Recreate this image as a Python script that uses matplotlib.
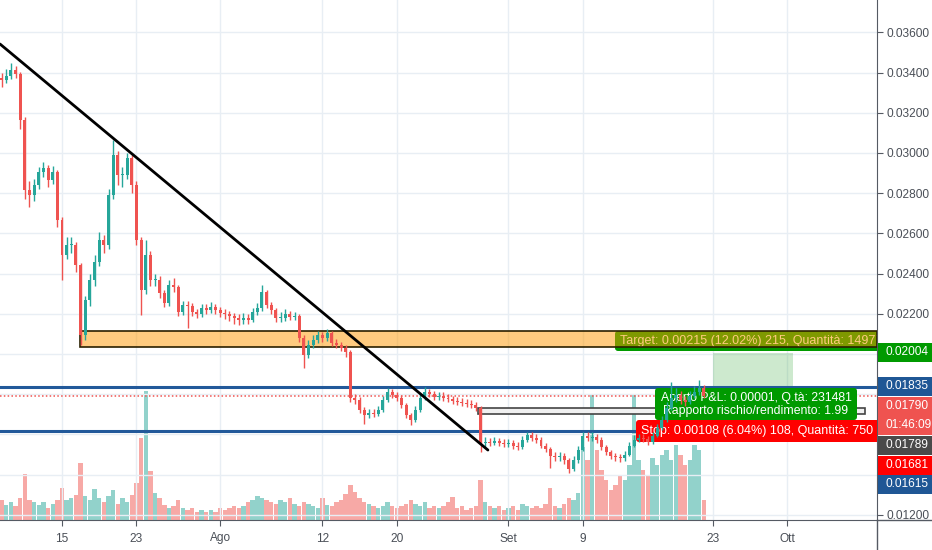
import numpy as np
import pandas as pd
import matplotlib
matplotlib.use("Agg")
import matplotlib.pyplot as plt
import matplotlib.dates as mdates
from matplotlib.patches import Rectangle, FancyBboxPatch
from matplotlib.transforms import Affine2D

plt.rcParams['font.family'] = ['Liberation Sans', 'DejaVu Sans']

# 12h candles, 2019-07-08 12:00 onwards
first_open = 0.03373
close = [0.03363, 0.03383, 0.03413, 0.03393, 0.03164, 0.02816, 0.02791, 0.02841, 0.02905, 0.02925,
         0.02866, 0.02905, 0.02667, 0.02492, 0.02542, 0.02542, 0.02443, 0.02094, 0.02268, 0.02368,
         0.02458, 0.02567, 0.02542, 0.02791, 0.02990, 0.02890, 0.02890, 0.02975, 0.02841, 0.02567,
         0.02318, 0.02492, 0.02368, 0.02368, 0.02303, 0.02254, 0.02343, 0.02333, 0.02209, 0.02244,
         0.02239, 0.02209, 0.02199, 0.02229, 0.02219, 0.02234, 0.02219, 0.02204, 0.02199, 0.02189,
         0.02179, 0.02169, 0.02179, 0.02169, 0.02209, 0.02229, 0.02308, 0.02244, 0.02219, 0.02179,
         0.02179, 0.02199, 0.02184, 0.02189, 0.02079, 0.01995, 0.02045, 0.02070, 0.02094, 0.02079,
         0.02104, 0.02055, 0.02045, 0.02030, 0.02010, 0.01781, 0.01771, 0.01721, 0.01696, 0.01706,
         0.01701, 0.01721, 0.01771, 0.01811, 0.01796, 0.01781, 0.01746, 0.01696, 0.01671, 0.01721,
         0.01781, 0.01811, 0.01801, 0.01786, 0.01791, 0.01781, 0.01776, 0.01766, 0.01761, 0.01756,
         0.01751, 0.01746, 0.01731, 0.01557, 0.01562, 0.01557, 0.01567, 0.01557, 0.01552, 0.01557,
         0.01542, 0.01537, 0.01572, 0.01597, 0.01582, 0.01572, 0.01542, 0.01527, 0.01492, 0.01487,
         0.01492, 0.01472, 0.01428, 0.01472, 0.01522, 0.01592, 0.01582, 0.01587, 0.01572, 0.01537,
         0.01512, 0.01492, 0.01487, 0.01482, 0.01497, 0.01542, 0.01572, 0.01582, 0.01577, 0.01562,
         0.01592, 0.01632, 0.01671, 0.01731, 0.01781, 0.01796, 0.01771, 0.01761, 0.01791, 0.01811,
         0.01831, 0.01791]
high = [0.03400, 0.03420, 0.03448, 0.03435, 0.03405, 0.03180, 0.02860, 0.02870, 0.02930, 0.02955,
        0.02940, 0.02935, 0.02915, 0.02680, 0.02580, 0.02580, 0.02555, 0.02455, 0.02290, 0.02400,
        0.02490, 0.02607, 0.02590, 0.02820, 0.03065, 0.03010, 0.02930, 0.03000, 0.02990, 0.02860,
        0.02580, 0.02567, 0.02510, 0.02400, 0.02390, 0.02320, 0.02370, 0.02380, 0.02345, 0.02265,
        0.02265, 0.02255, 0.02225, 0.02250, 0.02250, 0.02260, 0.02250, 0.02235, 0.02225, 0.02215,
        0.02205, 0.02200, 0.02205, 0.02200, 0.02230, 0.02255, 0.02343, 0.02320, 0.02260, 0.02230,
        0.02210, 0.02225, 0.02215, 0.02210, 0.02200, 0.02095, 0.02070, 0.02095, 0.02114, 0.02110,
        0.02124, 0.02115, 0.02075, 0.02060, 0.02045, 0.02020, 0.01800, 0.01785, 0.01735, 0.01725,
        0.01725, 0.01740, 0.01790, 0.01831, 0.01825, 0.01810, 0.01795, 0.01755, 0.01705, 0.01740,
        0.01800, 0.01836, 0.01825, 0.01815, 0.01810, 0.01810, 0.01800, 0.01790, 0.01785, 0.01780,
        0.01775, 0.01770, 0.01760, 0.01740, 0.01585, 0.01580, 0.01585, 0.01580, 0.01575, 0.01575,
        0.01570, 0.01560, 0.01590, 0.01612, 0.01610, 0.01600, 0.01585, 0.01555, 0.01535, 0.01510,
        0.01510, 0.01505, 0.01480, 0.01490, 0.01540, 0.01612, 0.01610, 0.01610, 0.01600, 0.01585,
        0.01545, 0.01520, 0.01505, 0.01500, 0.01515, 0.01560, 0.01595, 0.01600, 0.01600, 0.01590,
        0.01610, 0.01650, 0.01690, 0.01760, 0.01861, 0.01830, 0.01815, 0.01790, 0.01815, 0.01840,
        0.01871, 0.01845]
low = [0.03330, 0.03350, 0.03370, 0.03375, 0.03120, 0.02770, 0.02731, 0.02760, 0.02820, 0.02880,
       0.02830, 0.02845, 0.02630, 0.02368, 0.02470, 0.02500, 0.02410, 0.02045, 0.02070, 0.02240,
       0.02340, 0.02440, 0.02500, 0.02520, 0.02770, 0.02840, 0.02830, 0.02870, 0.02800, 0.02540,
       0.02194, 0.02300, 0.02340, 0.02340, 0.02280, 0.02234, 0.02240, 0.02310, 0.02190, 0.02195,
       0.02130, 0.02190, 0.02180, 0.02185, 0.02200, 0.02205, 0.02200, 0.02185, 0.02175, 0.02165,
       0.02150, 0.02145, 0.02150, 0.02150, 0.02160, 0.02195, 0.02215, 0.02230, 0.02200, 0.02160,
       0.02160, 0.02165, 0.02170, 0.02170, 0.02060, 0.01930, 0.01980, 0.02030, 0.02055, 0.02060,
       0.02065, 0.02040, 0.02030, 0.02015, 0.01985, 0.01760, 0.01750, 0.01705, 0.01651, 0.01680,
       0.01685, 0.01690, 0.01710, 0.01760, 0.01780, 0.01765, 0.01730, 0.01680, 0.01646, 0.01660,
       0.01710, 0.01770, 0.01785, 0.01770, 0.01770, 0.01765, 0.01760, 0.01750, 0.01745, 0.01740,
       0.01735, 0.01730, 0.01715, 0.01512, 0.01535, 0.01540, 0.01545, 0.01540, 0.01535, 0.01535,
       0.01525, 0.01520, 0.01525, 0.01560, 0.01565, 0.01555, 0.01530, 0.01510, 0.01433, 0.01470,
       0.01470, 0.01455, 0.01408, 0.01420, 0.01460, 0.01515, 0.01565, 0.01565, 0.01555, 0.01520,
       0.01495, 0.01475, 0.01470, 0.01465, 0.01470, 0.01490, 0.01535, 0.01560, 0.01560, 0.01545,
       0.01550, 0.01585, 0.01620, 0.01660, 0.01720, 0.01760, 0.01750, 0.01740, 0.01750, 0.01780,
       0.01795, 0.01780]
volume = [200, 150, 180, 140, 220, 460, 200, 180, 150, 180,
          120, 160, 200, 320, 200, 220, 250, 570, 240, 200,
          310, 220, 180, 240, 300, 160, 220, 180, 250, 370,
          820, 1290, 490, 270, 220, 150, 120, 140, 200, 120,
          100, 120, 80, 100, 80, 100, 80, 120, 100, 120,
          140, 120, 140, 180, 200, 240, 220, 200, 180, 160,
          200, 180, 220, 160, 140, 180, 160, 140, 120, 220,
          150, 140, 180, 200, 260, 350, 280, 220, 180, 160,
          140, 120, 140, 180, 140, 120, 140, 160, 200, 160,
          140, 180, 120, 140, 120, 140, 180, 230, 120, 140,
          100, 120, 140, 400, 180, 140, 120, 140, 100, 120,
          140, 100, 160, 140, 120, 140, 120, 160, 320, 140,
          120, 160, 220, 200, 270, 730, 600, 1250, 700, 500,
          400, 300, 350, 450, 400, 550, 1250, 600, 500, 450,
          620, 550, 650, 700, 600, 750, 650, 550, 600, 750,
          700, 200]

dates = pd.date_range('2019-07-08 12:00', periods=len(close), freq='12h')
xd = mdates.date2num(dates)
opens = [first_open] + close[:-1]

up_col = '#26a69a'
dn_col = '#ef5350'
is_up = [c >= o for o, c in zip(opens, close)]
cols = [up_col if u else dn_col for u in is_up]

tick_dates = ['2019-07-15', '2019-07-23', '2019-08-01', '2019-08-12', '2019-08-20',
              '2019-09-01', '2019-09-09', '2019-09-23', '2019-10-01']
tick_labels = ['15', '23', 'Ago', '12', '20', 'Set', '9', '23', 'Ott']

support_lines = [0.01835, 0.01615]
last_price = 0.01790
zone_top, zone_bottom = 0.02114, 0.02035
entry, target, stop = 0.01789, 0.02004, 0.01681

W, H = 932, 550
fig = plt.figure(figsize=(W / 100, H / 100), dpi=100)
rect = [0, 30 / H, 877 / W, 520 / H]
# pixel coordinates, origin top-left
px = Affine2D().scale(1 / 100, -1 / 100).translate(0, H / 100) + fig.dpi_scale_trans

ax_vol = fig.add_axes(rect)
ax = fig.add_axes(rect, sharex=ax_vol)
ax.patch.set_alpha(0)

x_left = mdates.date2num(pd.Timestamp('2019-07-08 08:00'))
x_right = mdates.date2num(pd.Timestamp('2019-10-10 15:00'))
ax.set_xlim(x_left, x_right)
ax.set_ylim(0.01174, 0.03761)

# volume
vol_cols = [(0.15, 0.65, 0.60, 0.5) if u else (0.94, 0.33, 0.31, 0.5) for u in is_up]
ax_vol.bar(xd, volume, width=0.47, color=vol_cols, linewidth=0)
ax_vol.set_ylim(0, 5200)
ax_vol.axis('off')

# grid
grid_c = '#e8eef4'
for td in tick_dates:
    ax.axvline(mdates.date2num(pd.Timestamp(td)), color=grid_c, lw=1, zorder=0)
for p in np.arange(0.012, 0.0361, 0.002):
    ax.axhline(p, color=grid_c, lw=1, zorder=0)

# candles
body_bottom = [min(o, c) for o, c in zip(opens, close)]
body_h = [max(abs(c - o), 0.00003) for o, c in zip(opens, close)]
ax.vlines(xd, low, high, colors=cols, lw=1, zorder=6)
ax.bar(xd, body_h, bottom=body_bottom, width=0.32, color=cols, linewidth=0, zorder=6)

# horizontal levels
for lvl in support_lines:
    ax.axhline(lvl, color='#22599a', lw=2.2, zorder=2)
ax.axhline(last_price, color='#ef5350', lw=1.1, ls=(0, (1, 1.5)), zorder=2)

# orange zone
zx0 = mdates.date2num(pd.Timestamp('2019-07-16 22:00'))
ax.add_patch(Rectangle((zx0, zone_bottom), x_right - zx0, zone_top - zone_bottom,
                       facecolor=(1.0, 0.6, 0.0, 0.5), edgecolor='#2b2000', lw=1.2, zorder=5))

# grey box
gx0 = mdates.date2num(pd.Timestamp('2019-08-28 17:30'))
gx1 = mdates.date2num(pd.Timestamp('2019-10-09 08:00'))
ax.add_patch(Rectangle((gx0, 0.01701), gx1 - gx0, 0.00030,
                       facecolor='#f0f0f0', edgecolor='#444444', lw=1.2, zorder=3))

# position tool zones
px0 = mdates.date2num(pd.Timestamp('2019-09-23 00:00'))
px1 = mdates.date2num(pd.Timestamp('2019-10-01 14:00'))
ax.add_patch(Rectangle((px0, entry), px1 - px0, target - entry,
                       facecolor=(0.3, 0.69, 0.31, 0.28), edgecolor='none', zorder=1))
ax.add_patch(Rectangle((px0, stop), px1 - px0, entry - stop,
                       facecolor=(0.94, 0.33, 0.31, 0.2), edgecolor='none', zorder=1))

# trend line
t0 = mdates.date2num(pd.Timestamp('2019-07-08 08:00'))
t1 = mdates.date2num(pd.Timestamp('2019-08-29 19:00'))
ax.plot([t0, t1], [0.03542, 0.01522], color='black', lw=2, zorder=7, solid_capstyle='round')

# label boxes on the chart (pixel layout)
def label_box(x0, y0, x1, y1, fc, z):
    b = FancyBboxPatch((x0, y0), x1 - x0, y1 - y0, boxstyle='round,pad=0,rounding_size=3',
                       transform=px, facecolor=fc, edgecolor='none', zorder=z)
    ax.add_patch(b)

fs = 9.0
label_box(615, 331, 890, 351, '#009a00', 4)
ax.text(620, 341, 'Target: 0.00215 (12.02%) 215, Quantità: 14977', transform=px,
        color='white', fontsize=fs, va='center', ha='left', zorder=4.5, clip_on=True)
label_box(655, 388, 857, 420, '#009a00', 3)
ax.text(756, 398.5, 'Aperto P&L: 0.00001, Q.tà: 231481', transform=px,
        color='white', fontsize=8.8, va='center', ha='center', zorder=3.5)
ax.text(756, 411, 'Rapporto rischio/rendimento: 1.99', transform=px,
        color='white', fontsize=8.8, va='center', ha='center', zorder=3.5)
label_box(636, 420, 890, 442, '#ff0000', 3)
ax.text(641, 431, 'Stop: 0.00108 (6.04%) 108, Quantità: 750', transform=px,
        color='white', fontsize=fs, va='center', ha='left', zorder=3.5, clip_on=True)

# axes styling
axis_c = '#555a63'
for s in ['top', 'left']:
    ax.spines[s].set_visible(False)
ax.spines['right'].set_color(axis_c)
ax.spines['bottom'].set_color(axis_c)
ax.yaxis.tick_right()
yt = np.arange(0.012, 0.0361, 0.002)
ax.set_yticks(yt)
ax.set_yticklabels(['%.5f' % v if (v > 0.021 or v < 0.013) else '' for v in yt])
ax.tick_params(axis='y', colors=axis_c, labelcolor='#4a4f57', labelsize=8.6, length=4, pad=3)
ax.set_xticks([mdates.date2num(pd.Timestamp(d)) for d in tick_dates])
ax.set_xticklabels(tick_labels)
ax.tick_params(axis='x', colors=axis_c, labelcolor='#4a4f57', labelsize=8.6, length=4, pad=5)

# continue axis lines into the corner
fig.add_artist(plt.Line2D([877, 932], [520, 520], transform=px, color=axis_c, lw=1))
fig.add_artist(plt.Line2D([877, 877], [520, 550], transform=px, color=axis_c, lw=1))

# price tags on the right scale
tags = [('0.02004', 352, '#009a00'), ('0.01835', 386, '#1f5795'), ('0.01790', 406, '#ef5350'),
        ('01:46:09', 425, '#ef5350'), ('0.01789', 445, '#4a4a4a'), ('0.01681', 465, '#ff0000'),
        ('0.01615', 484, '#1f5795')]
for txt, yc, c in tags:
    fig.add_artist(Rectangle((878, yc - 9.5), 54, 19, transform=px, facecolor=c, edgecolor='none'))
    fig.text(885, yc, txt, transform=px, color='white', fontsize=8.6, va='center', ha='left')

fig.savefig('out.png', dpi=100)
